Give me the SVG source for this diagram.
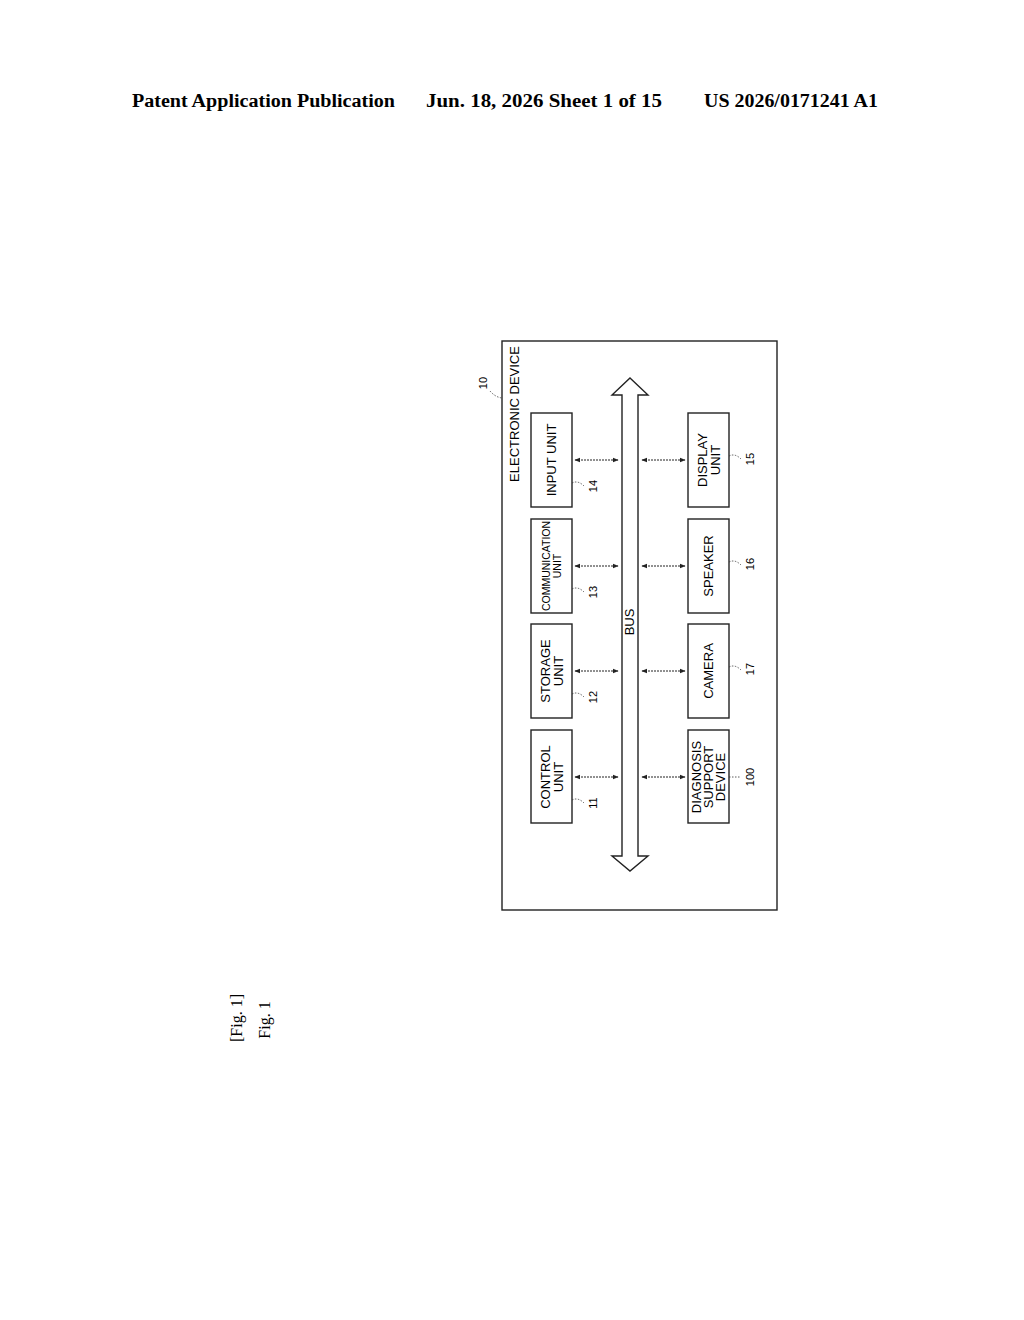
<svg xmlns="http://www.w3.org/2000/svg" width="1024" height="1320" viewBox="0 0 1024 1320">
<style>
.hd{font-family:"Liberation Serif",serif;font-weight:bold;font-size:18px;fill:#000}
.t{font-family:"Liberation Sans",Arial,sans-serif;font-size:13px;fill:#000;text-anchor:middle}
.n{font-family:"Liberation Sans",Arial,sans-serif;font-size:11px;fill:#000;text-anchor:middle}
.fg{font-family:"Liberation Serif",serif;font-size:16px;fill:#000}
.box{fill:#fff;stroke:#222;stroke-width:1.4}
.c{stroke:#222;stroke-width:1;stroke-dasharray:2 1;fill:none;marker-start:url(#a);marker-end:url(#a)}
.ld{stroke:#333;stroke-width:0.8;stroke-dasharray:1.5 1.5;fill:none}
</style>
<defs><marker id="a" viewBox="0 0 10 10" refX="9" refY="5" markerWidth="6" markerHeight="6" orient="auto-start-reverse"><path d="M0,1 L10,5 L0,9 z" fill="#222"/></marker></defs>
<text class="hd" x="132" y="107" textLength="263" lengthAdjust="spacingAndGlyphs">Patent Application Publication</text>
<text class="hd" x="426" y="107" textLength="236" lengthAdjust="spacingAndGlyphs">Jun. 18, 2026  Sheet 1 of 15</text>
<text class="hd" x="704" y="107" textLength="174" lengthAdjust="spacingAndGlyphs">US 2026/0171241 A1</text>
<g id="device"><rect class="box" x="502" y="341" width="275" height="569"/>
<text class="t" transform="translate(519,414) rotate(-90)">ELECTRONIC DEVICE</text>
<text class="n" transform="translate(487,383) rotate(-90)">10</text><path class="ld" d="M490,391 Q495,397 502,398"/></g>
<g id="bus"><path class="box" d="M630,378 L648,395 L638,395 L638,856 L648,856 L630,871 L612,856 L622,856 L622,395 L612,395 Z"/>
<text class="t" transform="translate(634,622) rotate(-90)">BUS</text></g>
<g id="n14"><rect class="box" x="531" y="413" width="41" height="94"/><text class="t" transform="translate(556,460) rotate(-90)">INPUT UNIT</text><path class="ld" d="M572,483 Q578,480 584,486"/><text class="n" transform="translate(597,486) rotate(-90)">14</text></g>
<g id="n13"><rect class="box" x="531" y="519" width="41" height="94"/><text class="t" style="font-size:10.5px" transform="translate(550,566) rotate(-90)">COMMUNICATION</text><text class="t" style="font-size:10.5px" transform="translate(561,566) rotate(-90)">UNIT</text><path class="ld" d="M572,589 Q578,586 584,592"/><text class="n" transform="translate(597,592) rotate(-90)">13</text></g>
<g id="n12"><rect class="box" x="531" y="624" width="41" height="94"/><text class="t" transform="translate(550,671) rotate(-90)">STORAGE</text><text class="t" transform="translate(563,671) rotate(-90)">UNIT</text><path class="ld" d="M572,694 Q578,691 584,697"/><text class="n" transform="translate(597,697) rotate(-90)">12</text></g>
<g id="n11"><rect class="box" x="531" y="730" width="41" height="93"/><text class="t" transform="translate(550,777) rotate(-90)">CONTROL</text><text class="t" transform="translate(563,777) rotate(-90)">UNIT</text><path class="ld" d="M572,800 Q578,797 584,803"/><text class="n" transform="translate(597,803) rotate(-90)">11</text></g>
<g id="n15"><rect class="box" x="688" y="413" width="41" height="94"/><text class="t" transform="translate(707,460) rotate(-90)">DISPLAY</text><text class="t" transform="translate(720,460) rotate(-90)">UNIT</text><path class="ld" d="M729,456 Q735,453 741,459"/><text class="n" transform="translate(754,459) rotate(-90)">15</text></g>
<g id="n16"><rect class="box" x="688" y="519" width="41" height="94"/><text class="t" transform="translate(713,566) rotate(-90)">SPEAKER</text><path class="ld" d="M729,562 Q735,559 741,565"/><text class="n" transform="translate(754,564) rotate(-90)">16</text></g>
<g id="n17"><rect class="box" x="688" y="624" width="41" height="94"/><text class="t" transform="translate(713,671) rotate(-90)">CAMERA</text><path class="ld" d="M729,667 Q735,664 741,670"/><text class="n" transform="translate(754,669) rotate(-90)">17</text></g>
<g id="n100"><rect class="box" x="688" y="730" width="41" height="93"/><text class="t" transform="translate(701,777) rotate(-90)">DIAGNOSIS</text><text class="t" transform="translate(713,777) rotate(-90)">SUPPORT</text><text class="t" transform="translate(725,777) rotate(-90)">DEVICE</text><path class="ld" d="M729,777 L741,777"/><text class="n" transform="translate(754,777) rotate(-90)">100</text></g>
<g id="connectors">
<path class="c" d="M575,460 L618,460"/><path class="c" d="M575,566 L618,566"/><path class="c" d="M575,671 L618,671"/><path class="c" d="M575,777 L618,777"/>
<path class="c" d="M642,460 L685,460"/><path class="c" d="M642,566 L685,566"/><path class="c" d="M642,671 L685,671"/><path class="c" d="M642,777 L685,777"/>
</g>
<text class="fg" transform="translate(242,1018) rotate(-90)" text-anchor="middle">[Fig. 1]</text>
<text class="fg" transform="translate(270,1020) rotate(-90)" text-anchor="middle">Fig. 1</text>
</svg>
